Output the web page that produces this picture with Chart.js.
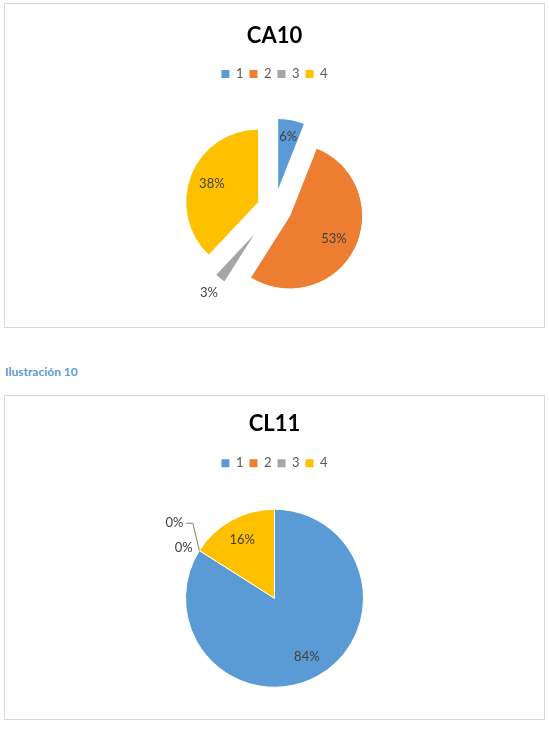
<!DOCTYPE html>
<html>
<head>
<meta charset="utf-8">
<script src="https://cdn.jsdelivr.net/npm/chart.js@4.4.1/dist/chart.umd.min.js"></script>
<style>
  body { margin: 0; background: #fff; font-family: Lato, sans-serif; }
  .box { position: absolute; left: 4px; width: 539px; height: 323px; border: 1px solid #d9d9d9; }
  .box canvas { display: block; }
  .caption { position: absolute; left: 5px; top: 365px; line-height: 14px; font-size: 12px; font-weight: bold; color: #5B9BD5; }
</style>
</head>
<body>
<div class="box" style="top:3px"><canvas id="ca10" width="539" height="323"></canvas></div>
<div class="caption">Ilustración 10</div>
<div class="box" style="top:395px"><canvas id="cl11" width="539" height="323"></canvas></div>
<script>
// data
const categories = ["1", "2", "3", "4"];
const ca10Values = [6, 53, 3, 38];
const cl11Values = [84, 0, 0, 16];
const sliceColors = ["#5B9BD5", "#ED7D31", "#A5A5A5", "#FFC000"];

// how far each slice is pulled out (px)
const ca10Explode = [17, 17, 17, 17];
const cl11Explode = [0, 0, 0, 0];
// white outline per slice (the thin grey one loses its tip, like in the original)
const ca10Borders = [1, 1, 3, 1];
const cl11Borders = [1, 1, 1, 1];

// where the percent labels go: r = fraction of radius from the slice tip,
// dx/dy = offset from the slice edge point, leader = polyline from the edge point
const ca10LabelPos = [{ r: 0.77 }, { r: 0.68 }, { r: 1.23 }, { r: 0.69 }];
const cl11LabelPos = [
  { r: 0.755 },
  { dx: -15.7, dy: -2.3 },
  { dx: -25, dy: -27.5, leader: [[-6.5, -27.3], [-13.2, -27.3]] },
  { r: 0.755 }
];

const explodePlugin = {
  id: "explode",
  beforeDatasetDraw(chart, args, opts) {
    const ctx = chart.ctx;
    args.meta.data.forEach((arc, i) => {
      const mid = (arc.startAngle + arc.endAngle) / 2;
      const d = opts.amounts[i] || 0;
      ctx.save();
      ctx.translate(Math.cos(mid) * d, Math.sin(mid) * d);
      arc.draw(ctx);
      ctx.restore();
    });
    return false;
  }
};

const percentLabels = {
  id: "percentLabels",
  afterDatasetsDraw(chart, args, opts) {
    const ctx = chart.ctx;
    const meta = chart.getDatasetMeta(0);
    const values = chart.data.datasets[0].data;
    const total = values.reduce((a, b) => a + b, 0);
    ctx.save();
    ctx.font = "13px Lato";
    ctx.fillStyle = "#404040";
    ctx.textAlign = "center";
    ctx.textBaseline = "middle";
    meta.data.forEach((arc, i) => {
      const pos = opts.positions[i];
      const mid = (arc.startAngle + arc.endAngle) / 2;
      const cx = Math.cos(mid), cy = Math.sin(mid);
      const d = opts.explode[i] || 0;
      const R = arc.outerRadius;
      const text = Math.round(values[i] / total * 100) + "%";
      let x, y;
      if (pos.r !== undefined) {
        x = arc.x + cx * (d + pos.r * R);
        y = arc.y + cy * (d + pos.r * R);
      } else {
        const ex = arc.x + cx * (d + R);
        const ey = arc.y + cy * (d + R);
        x = ex + pos.dx;
        y = ey + pos.dy;
        if (pos.leader) {
          ctx.beginPath();
          ctx.moveTo(ex, ey);
          pos.leader.forEach(p => ctx.lineTo(ex + p[0], ey + p[1]));
          ctx.strokeStyle = "#7f7f7f";
          ctx.lineWidth = 1;
          ctx.stroke();
        }
      }
      ctx.fillText(text, x, y);
    });
    ctx.restore();
  }
};

function makePie(id, title, values, radius, explode, borders, labelPos, titlePad, bottomPad) {
  new Chart(document.getElementById(id), {
    type: "pie",
    data: {
      labels: categories,
      datasets: [{
        data: values,
        backgroundColor: sliceColors,
        borderColor: "#ffffff",
        borderWidth: borders
      }]
    },
    options: {
      responsive: false,
      animation: false,
      events: [],
      radius: radius,
      layout: { padding: { bottom: bottomPad } },
      plugins: {
        title: {
          display: true,
          text: title,
          color: "#000000",
          font: { family: "Lato", size: 22, weight: "bold", lineHeight: 1.2 },
          padding: titlePad
        },
        legend: {
          position: "top",
          labels: {
            boxWidth: 8,
            boxHeight: 8,
            padding: 6,
            color: "#595959",
            font: { family: "Lato", size: 13 },
            generateLabels(chart) {
              return Chart.controllers.pie.overrides.plugins.legend.labels
                .generateLabels(chart).map(l => Object.assign(l, { lineWidth: 0 }));
            }
          }
        },
        tooltip: { enabled: false },
        explode: { amounts: explode },
        percentLabels: { positions: labelPos, explode: explode }
      }
    },
    plugins: [explodePlugin, percentLabels]
  });
}

makePie("ca10", "CA10", ca10Values, 73, ca10Explode, ca10Borders, ca10LabelPos, { top: 18.3, bottom: 12.8 }, 1);
makePie("cl11", "CL11", cl11Values, 89, cl11Explode, cl11Borders, cl11LabelPos, { top: 14.8, bottom: 13.6 }, 2.3);
</script>
</body>
</html>
